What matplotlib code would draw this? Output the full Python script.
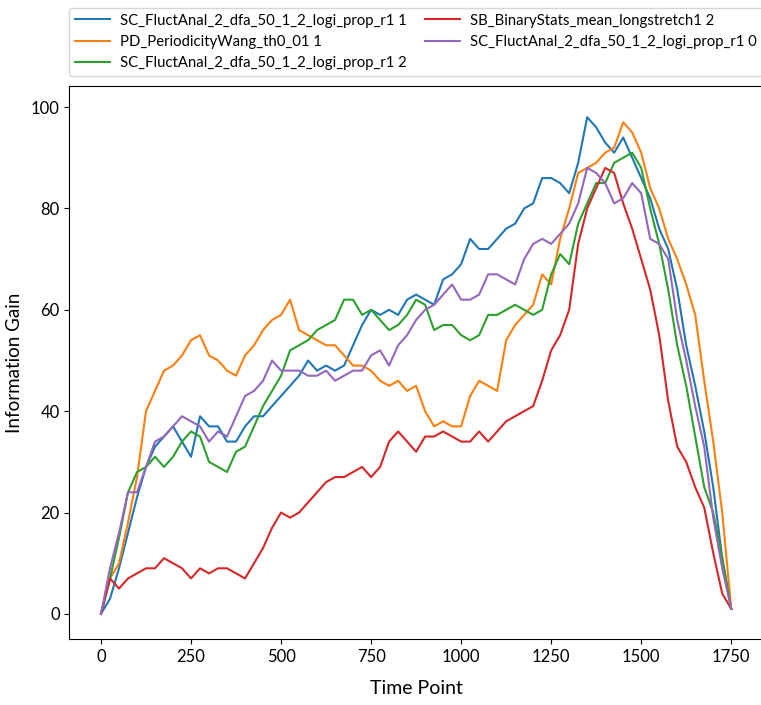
import numpy as np
import matplotlib
matplotlib.use("Agg")
import matplotlib.pyplot as plt

plt.rcParams['font.family'] = ['Lato', 'DejaVu Sans']

time_points = np.arange(0, 1751, 25)

fluct_r1_1 = [0, 3, 9, 16, 23, 29, 33, 35, 37, 34, 31, 39, 37, 37, 34, 34,
              37, 39, 39, 41, 43, 45, 47, 50, 48, 49, 48, 49, 53, 57, 60, 59,
              60, 59, 62, 63, 62, 61, 66, 67, 69, 74, 72, 72, 74, 76, 77, 80,
              81, 86, 86, 85, 83, 89, 98, 96, 93, 91, 94, 90, 86, 82, 76, 72,
              64, 53, 45, 36, 25, 11, 1]
periodicity_wang = [0, 7, 10, 18, 27, 40, 44, 48, 49, 51, 54, 55, 51, 50, 48,
                    47, 51, 53, 56, 58, 59, 62, 56, 55, 54, 53, 53, 51, 49, 49,
                    48, 46, 45, 46, 44, 45, 40, 37, 38, 37, 37, 43, 46, 45, 44,
                    54, 57, 59, 61, 67, 65, 74, 80, 87, 88, 89, 91, 92, 97, 95,
                    91, 84, 80, 74, 70, 65, 59, 46, 34, 20, 1]
fluct_r1_2 = [0, 7, 15, 24, 28, 29, 31, 29, 31, 34, 36, 35, 30, 29, 28, 32,
              33, 37, 41, 44, 47, 52, 53, 54, 56, 57, 58, 62, 62, 59, 60, 58,
              56, 57, 59, 62, 61, 56, 57, 57, 55, 54, 55, 59, 59, 60, 61, 60,
              59, 60, 67, 71, 69, 77, 81, 85, 85, 89, 90, 91, 88, 80, 73, 64,
              53, 45, 35, 25, 20, 11, 1]
binary_stats = [0, 7, 5, 7, 8, 9, 9, 11, 10, 9, 7, 9, 8, 9, 9, 8, 7, 10, 13,
                17, 20, 19, 20, 22, 24, 26, 27, 27, 28, 29, 27, 29, 34, 36, 34,
                32, 35, 35, 36, 35, 34, 34, 36, 34, 36, 38, 39, 40, 41, 46, 52,
                55, 60, 73, 80, 84, 88, 87, 81, 76, 70, 64, 55, 42, 33, 30, 25,
                21, 12, 4, 1]
fluct_r1_0 = [0, 9, 16, 24, 24, 29, 34, 35, 37, 39, 38, 37, 34, 36, 35, 39,
              43, 44, 46, 50, 48, 48, 48, 47, 47, 48, 46, 47, 48, 48, 51, 52,
              49, 53, 55, 58, 60, 61, 63, 65, 62, 62, 63, 67, 67, 66, 65, 70,
              73, 74, 73, 75, 77, 81, 88, 87, 85, 81, 82, 85, 83, 74, 73, 70,
              58, 50, 41, 33, 19, 9, 1]

series = [
    ("SC_FluctAnal_2_dfa_50_1_2_logi_prop_r1 1", fluct_r1_1),
    ("PD_PeriodicityWang_th0_01 1", periodicity_wang),
    ("SC_FluctAnal_2_dfa_50_1_2_logi_prop_r1 2", fluct_r1_2),
    ("SB_BinaryStats_mean_longstretch1 2", binary_stats),
    ("SC_FluctAnal_2_dfa_50_1_2_logi_prop_r1 0", fluct_r1_0),
]

fig = plt.figure(figsize=(7.61, 7.05), dpi=100)
ax = fig.add_axes([0.0913, 0.0936, 0.911, 0.784])

for label, values in series:
    ax.plot(time_points, values, label=label, linewidth=1.5)

ax.set_xlim(-87.5, 1837.5)
ax.set_ylim(-4.95, 104.1)
ax.set_xticks([0, 250, 500, 750, 1000, 1250, 1500, 1750])
ax.set_yticks([0, 20, 40, 60, 80, 100])
ax.tick_params(labelsize=12)
ax.set_xlabel("Time Point", fontsize=14, labelpad=11)
ax.set_ylabel("Information Gain", fontsize=13.5, labelpad=6)

ax.legend(loc="lower left", bbox_to_anchor=(0, 1.018, 1, 0.1), mode="expand",
          ncol=2, fontsize=10.7, borderaxespad=0, handlelength=2.3,
          handletextpad=0.7)

fig.savefig("out.png", dpi=100)
